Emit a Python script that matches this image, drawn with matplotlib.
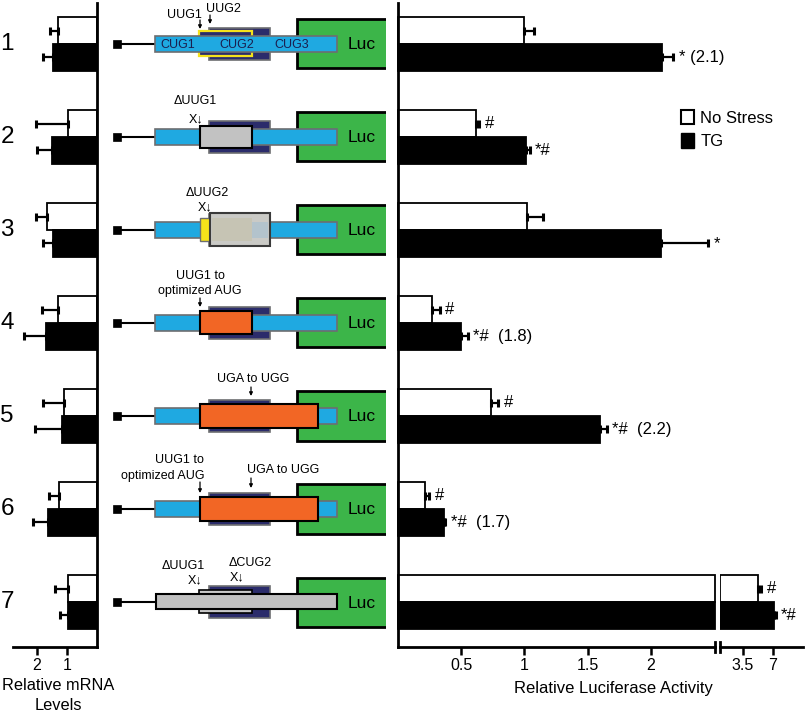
import matplotlib
matplotlib.use("Agg")
import matplotlib.pyplot as plt
import matplotlib.transforms as mtransforms
from matplotlib.patches import Rectangle, Patch
import numpy as np

plt.rcParams['font.family'] = ['Liberation Sans', 'DejaVu Sans']

# --------------------------
# Data
# --------------------------
constructs = ['1', '2', '3', '4', '5', '6', '7']
series = ['No Stress', 'TG']

mrna_nostress = [1.29, 0.97, 1.68, 1.29, 1.09, 1.26, 0.97]
mrna_nostress_err = [0.28, 1.06, 0.35, 0.55, 0.72, 0.33, 0.43]
mrna_tg = [1.46, 1.50, 1.46, 1.70, 1.17, 1.64, 0.97]
mrna_tg_err = [0.33, 0.50, 0.33, 0.73, 0.90, 0.48, 0.26]

luc_nostress = [1.00, 0.62, 1.02, 0.27, 0.735, 0.21, 5.2]
luc_nostress_err = [0.075, 0.02, 0.13, 0.06, 0.055, 0.035, 0.4]
luc_tg = [2.09, 1.01, 2.08, 0.50, 1.60, 0.36, 7.1]
luc_tg_err = [0.085, 0.03, 0.37, 0.05, 0.05, 0.015, 0.2]

luc_nostress_marks = ['', '#', '', '#', '#', '#', '#']
luc_tg_marks = ['* (2.1)', '*#', '*', '*#  (1.8)', '*#  (2.2)', '*#  (1.7)', '*#']

mrna_ticks = [2, 1]
luc_ticks = [0.5, 1, 1.5, 2]
break_ticks = [3.5, 7]

# --------------------------
# Layout (pixel based)
# --------------------------
W, H = 805.0, 713.0
TOP, BOT = 3, 647
ROW0, ROW_PX = 44, 93
BLUE = '#1fa9e1'
NAVY = '#2b2c6b'
GREEN = '#3cb549'
ORANGE = '#f26625'
YELLOW = '#f5e21b'
EDGE = '#6d6e71'
TICK_FS = 11.5
LABEL_FS = 12


def rect(x0, x1, y0, y1):
    return [x0 / W, 1 - y1 / H, (x1 - x0) / W, (y1 - y0) / H]


fig = plt.figure(figsize=(W / 100, H / 100), dpi=100)
ylim = ((BOT - ROW0) / ROW_PX, (TOP - ROW0) / ROW_PX)

ax_m = fig.add_axes(rect(13, 97, TOP, BOT))
ax_d = fig.add_axes(rect(100, 386, TOP, BOT))
ax_l = fig.add_axes(rect(398, 715, TOP, BOT))
ax_b = fig.add_axes(rect(720, 803, TOP, BOT))
for ax in (ax_m, ax_d, ax_l, ax_b):
    ax.patch.set_visible(False)

pos = np.arange(len(constructs))
off, bh = 0.145, 0.29
ebar = dict(fmt='none', ecolor='black', elinewidth=1.6, capsize=3, capthick=2.2)

# --------------------------
# mRNA panel
# --------------------------
ax_m.barh(pos - off, mrna_nostress, height=bh, color='white', edgecolor='black', linewidth=1.3)
ax_m.barh(pos + off, mrna_tg, height=bh, color='black', edgecolor='black', linewidth=1.3)
ax_m.errorbar(mrna_nostress, pos - off, xerr=[np.zeros(7), mrna_nostress_err], **ebar)
ax_m.errorbar(mrna_tg, pos + off, xerr=[np.zeros(7), mrna_tg_err], **ebar)
ax_m.set_xlim(2.8, 0)
ax_m.set_ylim(*ylim)
for s in ['left', 'top']:
    ax_m.spines[s].set_visible(False)
for s in ['right', 'bottom']:
    ax_m.spines[s].set_linewidth(2)
ax_m.set_yticks([])
ax_m.set_xticks(mrna_ticks)
ax_m.set_xticklabels([str(t) for t in mrna_ticks])
ax_m.tick_params(axis='x', direction='out', length=6, width=1.8, labelsize=TICK_FS, pad=2)
fig.text(58 / W, 1 - 686 / H, 'Relative mRNA', ha='center', va='center', fontsize=11.8)
fig.text(58 / W, 1 - 705 / H, 'Levels', ha='center', va='center', fontsize=11.8)

row_tr = mtransforms.blended_transform_factory(fig.transFigure, ax_m.transData)
for i, lab in enumerate(constructs):
    ax_m.text(7 / W, i, lab, transform=row_tr, ha='center', va='center', fontsize=17.5)

# --------------------------
# Luciferase panel (with axis break)
# --------------------------
lim_main = 2.506
b_lo, b_hi = 0.816, 10.5

ax_l.barh(pos - off, np.minimum(luc_nostress, lim_main), height=bh, color='white',
          edgecolor='black', linewidth=1.3, clip_on=False)
ax_l.barh(pos + off, np.minimum(luc_tg, lim_main), height=bh, color='black',
          edgecolor='black', linewidth=1.3, clip_on=False)

for vals, errs, marks, dy in [(luc_nostress, luc_nostress_err, luc_nostress_marks, -off),
                              (luc_tg, luc_tg_err, luc_tg_marks, off)]:
    for i in range(len(vals)):
        ax = ax_l if vals[i] < lim_main else ax_b
        if ax is ax_b:
            face = 'white' if dy < 0 else 'black'
            ax_b.barh(pos[i] + dy, vals[i] - b_lo, left=b_lo, height=bh, color=face,
                      edgecolor='black', linewidth=1.3)
        ax.errorbar([vals[i]], [pos[i] + dy], xerr=[[0], [errs[i]]], **ebar)
        if marks[i]:
            ax.annotate(marks[i], xy=(vals[i] + errs[i], pos[i] + dy), xytext=(4, 0),
                        textcoords='offset points', ha='left', va='center', fontsize=LABEL_FS)

for ax in (ax_l, ax_b):
    ax.set_ylim(*ylim)
    ax.set_yticks([])
    ax.spines['top'].set_visible(False)
    ax.spines['right'].set_visible(False)
    ax.spines['bottom'].set_linewidth(2)
    ax.tick_params(axis='x', direction='out', length=6, width=1.8, labelsize=TICK_FS, pad=2)
ax_l.spines['left'].set_linewidth(2)
ax_b.spines['left'].set_visible(False)
ax_l.set_xlim(0, lim_main)
ax_b.set_xlim(b_lo, b_hi)
ax_l.set_xticks(luc_ticks)
ax_l.set_xticklabels(['0.5', '1', '1.5', '2'])
ax_b.set_xticks(break_ticks)
ax_b.set_xticklabels(['3.5', '7'])

# break marks on the x axis
ax_l.plot([lim_main, lim_main], [-0.008, 0.008], transform=ax_l.get_xaxis_transform(),
          color='black', lw=2, clip_on=False)
ax_b.plot([b_lo, b_lo], [-0.008, 0.008], transform=ax_b.get_xaxis_transform(),
          color='black', lw=2, clip_on=False)

fig.text(613 / W, 1 - 688 / H, 'Relative Luciferase Activity', ha='center', va='center',
         fontsize=LABEL_FS)

handles = [Patch(facecolor='white', edgecolor='black', linewidth=1.5),
           Patch(facecolor='black', edgecolor='black')]
ax_l.legend(handles, series, loc='upper left', bbox_to_anchor=(681 / W, 1 - 110 / H),
            bbox_transform=fig.transFigure, frameon=False, fontsize=LABEL_FS, handlelength=0.8,
            handleheight=0.95, handletextpad=0.35, labelspacing=0.45, borderpad=0,
            borderaxespad=0)

# --------------------------
# Construct schematics
# --------------------------
ax_d.set_xlim(100, 386)
ax_d.set_ylim(*ylim)
ax_d.axis('off')


def box(x0, x1, i, hpx, fc, ec=EDGE, lw=1.2, z=2):
    h = hpx / ROW_PX
    ax_d.add_patch(Rectangle((x0, i - h / 2), x1 - x0, h, facecolor=fc, edgecolor=ec,
                             linewidth=lw, zorder=z))


def label(x, i, dpx, s, ha='center', size=9, color='black'):
    ax_d.text(x, i + dpx / ROW_PX, s, ha=ha, va='center', fontsize=size, color=color, zorder=6)


def arrow(x, i, d0, d1):
    ax_d.annotate('', xy=(x, i + d1 / ROW_PX), xytext=(x, i + d0 / ROW_PX),
                  arrowprops=dict(arrowstyle='-|>', lw=0.9, color='black', mutation_scale=5,
                                  shrinkA=0, shrinkB=0))


for i in pos:
    box(113, 121, i, 8, 'black', 'black', 0.5, z=3)
    ax_d.plot([121, 155], [i, i], color='black', lw=1.5, zorder=2)
    box(297, 400, i, 49, GREEN, 'black', 2.0, z=1)
    label(362, i, 1, 'Luc', size=12.5)
    box(209, 270, i, 32, NAVY, z=2)
    if i < 6:
        box(155, 337, i, 16, BLUE, z=3)

# 1: wild type
box(199, 252, 0, 25, NAVY, YELLOW, 1.6, z=2.5)
for x, s in [(178, 'CUG1'), (237, 'CUG2'), (292, 'CUG3')]:
    label(x, 0, 1, s, size=9, color='#1b1f4f')
label(184, 0, -29, 'UUG1')
label(223, 0, -35, 'UUG2')
arrow(200, 0, -24, -15)
arrow(210, 0, -29, -20)

# 2: deleted UUG1
box(200, 252, 1, 22, '#c2c2c2', 'black', 1.5, z=4)
label(195, 1, -36, '\u0394UUG1')
label(196, 1, -18, 'X\u2193')

# 3: deleted UUG2
box(200, 210, 2, 23, YELLOW, EDGE, 1.0, z=4)
box(210, 270, 2, 33, '#cacac6', '#3a3a3a', 1.5, z=4)
box(212, 252, 2, 23, '#c6c4b4', 'none', 0, z=4.5)
box(252, 268, 2, 16, '#b3c3cc', 'none', 0, z=4.5)
label(207, 2, -37, '\u0394UUG2')
label(205, 2, -23, 'X\u2193')

# 4: UUG1 to optimized AUG
box(200, 252, 3, 23, ORANGE, 'black', 1.5, z=4)
label(200, 3, -47, 'UUG1 to')
label(200, 3, -32, 'optimized AUG')
arrow(200, 3, -25, -16)

# 5: UGA to UGG
box(200, 318, 4, 24, ORANGE, 'black', 1.5, z=4)
label(253, 4, -37, 'UGA to UGG')
arrow(251, 4, -29, -20)

# 6: both changes
box(200, 318, 5, 24, ORANGE, 'black', 1.5, z=4)
label(204, 5, -49, 'UUG1 to', ha='right')
label(204, 5, -33, 'optimized AUG', ha='right')
arrow(200, 5, -27, -16)
label(283, 5, -39, 'UGA to UGG')
arrow(251, 5, -31, -21)

# 7: deleted UUG1 and CUG2
box(199, 252, 6, 23, '#c8c8c8', 'black', 1.2, z=3.5)
box(156, 337, 6, 15, '#c0c0c0', 'black', 1.5, z=4)
label(183, 6, -36, '\u0394UUG1')
label(195, 6, -22, 'X\u2193')
label(250, 6, -39, '\u0394CUG2')
label(237, 6, -25, 'X\u2193')

fig.savefig('out.png', dpi=100)
